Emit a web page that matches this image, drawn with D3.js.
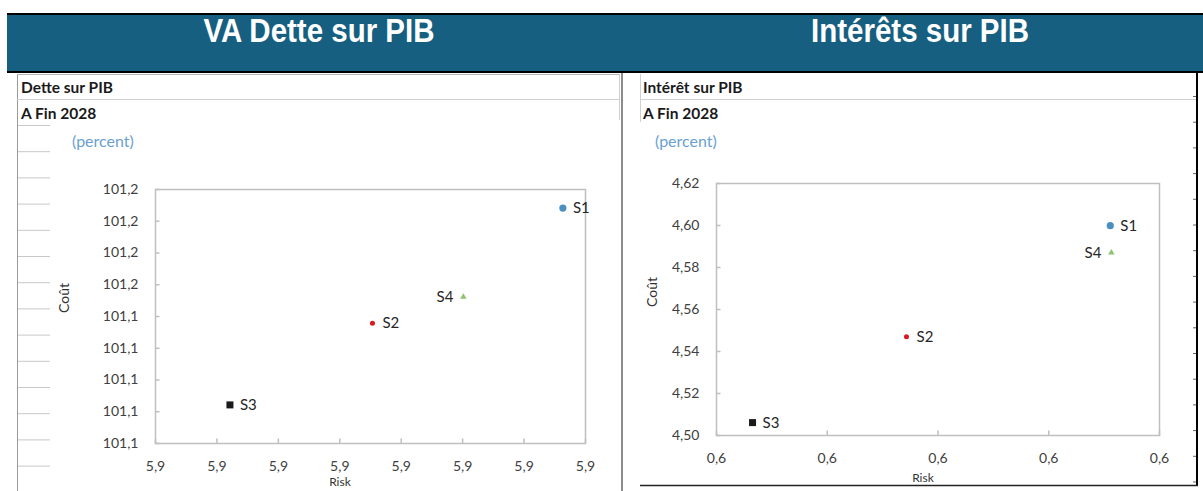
<!DOCTYPE html>
<html>
<head>
<meta charset="utf-8">
<style>
  body { margin: 0; background: #fff; }
  svg { display: block; }
</style>
</head>
<body>
<svg width="1203" height="491" font-family="Lato, 'Open Sans', sans-serif"></svg>
<script src="https://d3js.org/d3.v7.min.js"></script>
<script>

// scenarios
var series = ["S1", "S2", "S3", "S4"];

// left chart : dette sur PIB
var detteRisk = [5.9332, 5.9177, 5.9061, 5.9251];
var detteCout = [101.1606, 101.1461, 101.1358, 101.1494];
var detteXTicks = [5.900, 5.905, 5.910, 5.915, 5.920, 5.925, 5.930, 5.935];
var detteYTicks = [101.131, 101.135, 101.139, 101.143, 101.147, 101.151, 101.155, 101.159, 101.163];

// right chart : interets sur PIB
var interetRisk = [0.6156, 0.5972, 0.5833, 0.6157];
var interetCout = [4.5997, 4.5468, 4.5059, 4.5868];
var interetXTicks = [0.58, 0.59, 0.60, 0.61, 0.62];
var interetYTicks = [4.50, 4.52, 4.54, 4.56, 4.58, 4.60, 4.62];

var svg = d3.select("svg");

var colors = { S1: "#4b8fc1", S2: "#d9191f", S3: "#1a1a1a", S4: "#8fc36f" };

// header band
svg.append("rect").attr("x", 7).attr("y", 14).attr("width", 1196).attr("height", 58)
    .attr("fill", "#175f80");
svg.append("line").attr("x1", 7).attr("x2", 1203).attr("y1", 14).attr("y2", 14)
    .attr("stroke", "#000").attr("stroke-width", 2);
svg.append("line").attr("x1", 7).attr("x2", 1203).attr("y1", 72).attr("y2", 72)
    .attr("stroke", "#000").attr("stroke-width", 2);

svg.selectAll(".band-title")
  .data([{t: "VA Dette sur PIB", x: 319}, {t: "Intérêts sur PIB", x: 920}])
  .enter().append("text")
    .attr("transform", function(d) { return "translate(" + d.x + ",42) scale(1,1.1)"; })
    .attr("text-anchor", "middle")
    .attr("font-family", "'Liberation Sans', Arial, sans-serif")
    .attr("font-weight", "bold")
    .attr("font-size", 29.5)
    .attr("fill", "#fff")
    .text(function(d) { return d.t; });

// spreadsheet look behind the left chart
svg.append("line").attr("x1", 17.5).attr("x2", 17.5).attr("y1", 74).attr("y2", 491)
    .attr("stroke", "#9a9a9a");
svg.append("line").attr("x1", 17).attr("x2", 620).attr("y1", 74.5).attr("y2", 74.5)
    .attr("stroke", "#b5b5b5");
svg.append("line").attr("x1", 17).attr("x2", 620).attr("y1", 99.5).attr("y2", 99.5)
    .attr("stroke", "#d0d0d0");
svg.selectAll(".cell-line")
  .data(d3.range(14))
  .enter().append("line")
    .attr("x1", 18).attr("x2", 50)
    .attr("y1", function(i) { return 125.5 + i * 26.2; })
    .attr("y2", function(i) { return 125.5 + i * 26.2; })
    .attr("stroke", "#c8c8c8");
svg.append("line").attr("x1", 619.5).attr("x2", 619.5).attr("y1", 74).attr("y2", 120)
    .attr("stroke", "#d0d0d0");

// right sheet frame
svg.append("line").attr("x1", 622).attr("x2", 622).attr("y1", 73).attr("y2", 491)
    .attr("stroke", "#666").attr("stroke-width", 1.5);
svg.append("line").attr("x1", 640.5).attr("x2", 640.5).attr("y1", 74).attr("y2", 122)
    .attr("stroke", "#d0d0d0");
svg.append("line").attr("x1", 641).attr("x2", 1196).attr("y1", 99.5).attr("y2", 99.5)
    .attr("stroke", "#d0d0d0");
svg.append("line").attr("x1", 1197).attr("x2", 1197).attr("y1", 73).attr("y2", 486)
    .attr("stroke", "#000").attr("stroke-width", 2);
svg.append("line").attr("x1", 640).attr("x2", 1198).attr("y1", 485.5).attr("y2", 485.5)
    .attr("stroke", "#222").attr("stroke-width", 1.5);
svg.selectAll(".edge-tick")
  .data(d3.range(16))
  .enter().append("line")
    .attr("x1", 1193).attr("x2", 1196)
    .attr("y1", function(i) { return 96.5 + i * 25.7; })
    .attr("y2", function(i) { return 96.5 + i * 25.7; })
    .attr("stroke", "#666");

var fmtComma = function(f) { return function(v) { return d3.format(f)(v).replace(".", ","); }; };

function drawPanel(cfg) {
  var g = svg.append("g");

  g.append("text").attr("x", cfg.textX).attr("y", 93)
      .attr("font-weight", "bold").attr("font-size", 15.5).attr("fill", "#1a1a1a")
      .text(cfg.title);
  g.append("text").attr("x", cfg.textX).attr("y", 119)
      .attr("font-weight", "bold").attr("font-size", 15.5).attr("fill", "#1a1a1a")
      .text("A Fin 2028");
  g.append("text").attr("x", cfg.percentX).attr("y", 147)
      .attr("font-size", 16).attr("fill", "#6a9fd2")
      .text("(percent)");

  var x = d3.scaleLinear()
      .domain(d3.extent(cfg.xTicks))
      .range([cfg.left, cfg.right]);
  var y = d3.scaleLinear()
      .domain(d3.extent(cfg.yTicks))
      .range([cfg.bottom, cfg.top]);

  // plot frame
  g.append("rect")
      .attr("x", cfg.left + 0.5).attr("y", cfg.top + 0.5)
      .attr("width", cfg.right - cfg.left).attr("height", cfg.bottom - cfg.top)
      .attr("fill", "none").attr("stroke", "#bfbfbf").attr("stroke-width", 1.5);

  var xAxis = g.append("g")
      .attr("transform", "translate(0," + (cfg.bottom + 0.5) + ")")
      .call(d3.axisBottom(x).tickValues(cfg.xTicks).tickSize(-5).tickPadding(18)
        .tickFormat(fmtComma(".1f")));
  var yAxis = g.append("g")
      .attr("transform", "translate(" + (cfg.left + 0.5) + ",0)")
      .call(d3.axisLeft(y).tickValues(cfg.yTicks).tickSize(-4).tickPadding(17)
        .tickFormat(fmtComma(cfg.yFormat)));

  [xAxis, yAxis].forEach(function(a) {
    a.select(".domain").remove();
    a.selectAll(".tick line").attr("stroke", "#bfbfbf").attr("stroke-width", 1.5);
    a.selectAll(".tick text").attr("font-family", "Lato, sans-serif")
        .attr("font-size", 14).attr("fill", "#404040");
  });

  g.append("text")
      .attr("transform", "translate(" + cfg.coutX + "," + cfg.coutY + ") rotate(-90)")
      .attr("text-anchor", "middle").attr("font-size", 14)
      .attr("fill", "#333")
      .text("Coût");
  g.append("text")
      .attr("x", cfg.riskX).attr("y", cfg.riskY)
      .attr("text-anchor", "middle").attr("font-size", 12)
      .attr("fill", "#333")
      .text("Risk");

  var pts = series.map(function(s, i) {
    return { name: s, risk: cfg.risk[i], cout: cfg.cout[i] };
  });

  var node = g.selectAll(".pt")
    .data(pts)
    .enter().append("g")
      .attr("transform", function(d) { return "translate(" + x(d.risk) + "," + y(d.cout) + ")"; });

  node.each(function(d) {
    var n = d3.select(this);
    if (d.name === "S1") n.append("circle").attr("r", 3.6).attr("fill", colors.S1);
    if (d.name === "S2") n.append("circle").attr("r", 2.5).attr("fill", colors.S2);
    if (d.name === "S3") n.append("rect").attr("x", -3.5).attr("y", -3.5)
        .attr("width", 7).attr("height", 7).attr("fill", colors.S3);
    if (d.name === "S4") n.append("path")
        .attr("d", d3.symbol().type(d3.symbolTriangle).size(18)).attr("fill", colors.S4);
  });

  node.append("text")
      .attr("x", function(d) { return d.name === "S4" ? -10 : 10; })
      .attr("y", 5)
      .attr("text-anchor", function(d) { return d.name === "S4" ? "end" : "start"; })
      .attr("font-size", 15)
      .attr("fill", "#262626")
      .text(function(d) { return d.name; });
}

drawPanel({
  title: "Dette sur PIB", textX: 21, percentX: 72,
  left: 155, right: 585, top: 189, bottom: 443,
  xTicks: detteXTicks, yTicks: detteYTicks, yFormat: ".1f",
  risk: detteRisk, cout: detteCout,
  coutX: 69, coutY: 298, riskX: 340, riskY: 486
});

drawPanel({
  title: "Intérêt sur PIB", textX: 643, percentX: 655,
  left: 716, right: 1159, top: 183, bottom: 435,
  xTicks: interetXTicks, yTicks: interetYTicks, yFormat: ".2f",
  risk: interetRisk, cout: interetCout,
  coutX: 657, coutY: 292, riskX: 923, riskY: 482
});

</script>
</body>
</html>
